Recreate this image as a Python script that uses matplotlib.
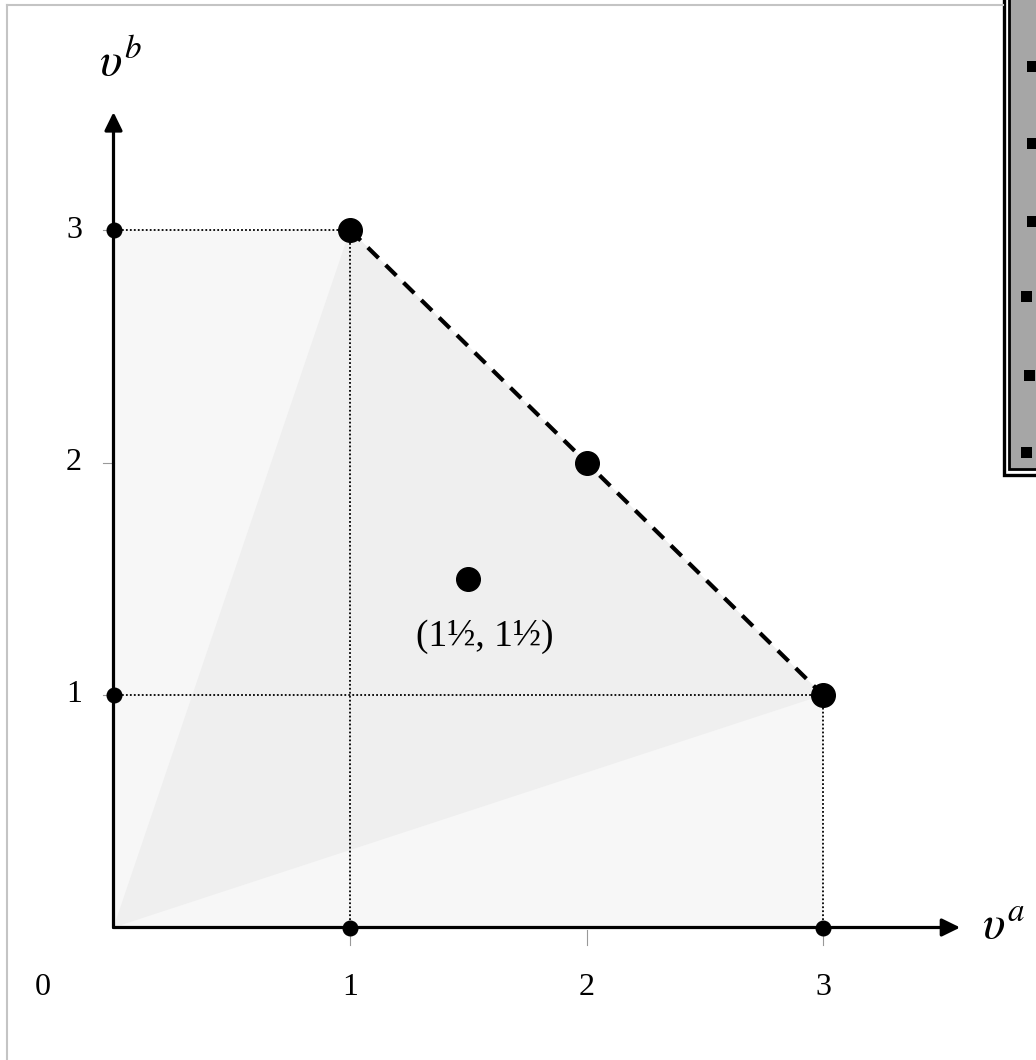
import matplotlib
matplotlib.use('Agg')
import matplotlib.pyplot as plt
from matplotlib.patches import Polygon, Rectangle

plt.rcParams['font.family'] = ['Liberation Serif', 'DejaVu Serif']
plt.rcParams['mathtext.fontset'] = 'stix'

# данные
frontier_x = [1, 2, 3]          # точки на границе (пунктир)
frontier_y = [3, 2, 1]
axis_pts_x = [0, 0, 1, 3]       # точки на осях
axis_pts_y = [3, 1, 0, 0]
mid_x, mid_y = 1.5, 1.5
mid_label = '(1½, 1½)'
region = [(0, 0), (0, 3), (1, 3), (3, 1), (3, 0)]
triangle = [(0, 0), (1, 3), (3, 1)]
xticks = [1, 2, 3]
yticks = [1, 2, 3]

# пиксели -> данные
W, H = 1036, 1060
x0, ux = 113.5, 236.5
y0, uy = 927.5, 232.5

fig = plt.figure(figsize=(W / 100, H / 100), dpi=100)
ax = fig.add_axes([0, 0, 1, 1])
ax.set_xlim(-x0 / ux, (W - x0) / ux)
ax.set_ylim(-(H - y0) / uy, y0 / uy)
ax.axis('off')

# области
ax.add_patch(Polygon(region, closed=True, facecolor='#f7f7f7', edgecolor='none', zorder=1))
ax.add_patch(Polygon(triangle, closed=True, facecolor='#efefef', edgecolor='none', zorder=1))

# пунктирные проекции крайних точек
for px, py in [(frontier_x[0], frontier_y[0]), (frontier_x[-1], frontier_y[-1])]:
    ax.plot([0, px], [py, py], color='black', lw=1.3, ls=(0, (1, 1.2)), zorder=2)
    ax.plot([px, px], [0, py], color='black', lw=1.3, ls=(0, (1, 1.2)), zorder=2)

# граница
ax.plot(frontier_x, frontier_y, color='black', lw=3, dashes=(3.6, 2.4), zorder=3)

# засечки
for t in xticks:
    ax.plot([t, t], [-0.012, -0.075], color='#999999', lw=0.8, zorder=2)
for t in yticks:
    ax.plot([-0.045, 0], [t, t], color='#999999', lw=0.8, zorder=2)

# оси
arrow = dict(arrowstyle='-|>,head_length=0.55,head_width=0.27', lw=2.3, color='black',
             shrinkA=0, shrinkB=0, mutation_scale=20)
ax.annotate('', xy=(3.58, 0), xytext=(0, 0), arrowprops=arrow, zorder=4)
ax.annotate('', xy=(0, 3.507), xytext=(0, 0), arrowprops=arrow, zorder=4)

# точки
ax.plot(frontier_x, frontier_y, 'o', color='black', ms=17, zorder=5)
ax.plot([mid_x], [mid_y], 'o', color='black', ms=17, zorder=5)
ax.plot(axis_pts_x, axis_pts_y, 'o', color='black', ms=10.5, zorder=5)

# подписи
ax.text(mid_x + 0.07, mid_y - 0.25, mid_label, fontsize=27, ha='center', va='center', zorder=6)
for t in xticks:
    ax.text(t, -0.26, str(t), fontsize=23, ha='center', va='center')
ax.text(-0.30, -0.26, '0', fontsize=23, ha='center', va='center')
for t in yticks:
    ax.text(-0.167, t, str(t), fontsize=23, ha='center', va='center')

ax.text(3.672, 0, r'$\upsilon^a$', fontsize=34, ha='left', va='center')
ax.text(0.03, 3.718, r'$\upsilon^b$', fontsize=34, ha='center', va='center')

# рамка и обрезанный блок справа (в пикселях)
ov = fig.add_axes([0, 0, 1, 1], zorder=10)
ov.set_xlim(0, W)
ov.set_ylim(H, 0)
ov.axis('off')
ov.patch.set_alpha(0)
ov.plot([7, 7], [5, H], color='#c4c4c4', lw=1.5)
ov.plot([7, 1003], [5, 5], color='#c4c4c4', lw=1.5)
ov.add_patch(Rectangle((1003.5, -10), 60, 485, facecolor='white', edgecolor='black', lw=2.4))
ov.add_patch(Rectangle((1008.5, -10), 60, 479, facecolor='#a6a6a6', edgecolor='black', lw=2.0))
for sx, sy in [(1032, -8), (1032, 66), (1032, 143), (1032, 221), (1026, 296), (1029, 375), (1026, 452)]:
    ov.add_patch(Rectangle((sx - 5.5, sy - 5.5), 11, 11, facecolor='black', edgecolor='none'))

fig.savefig('out.png', dpi=100)
